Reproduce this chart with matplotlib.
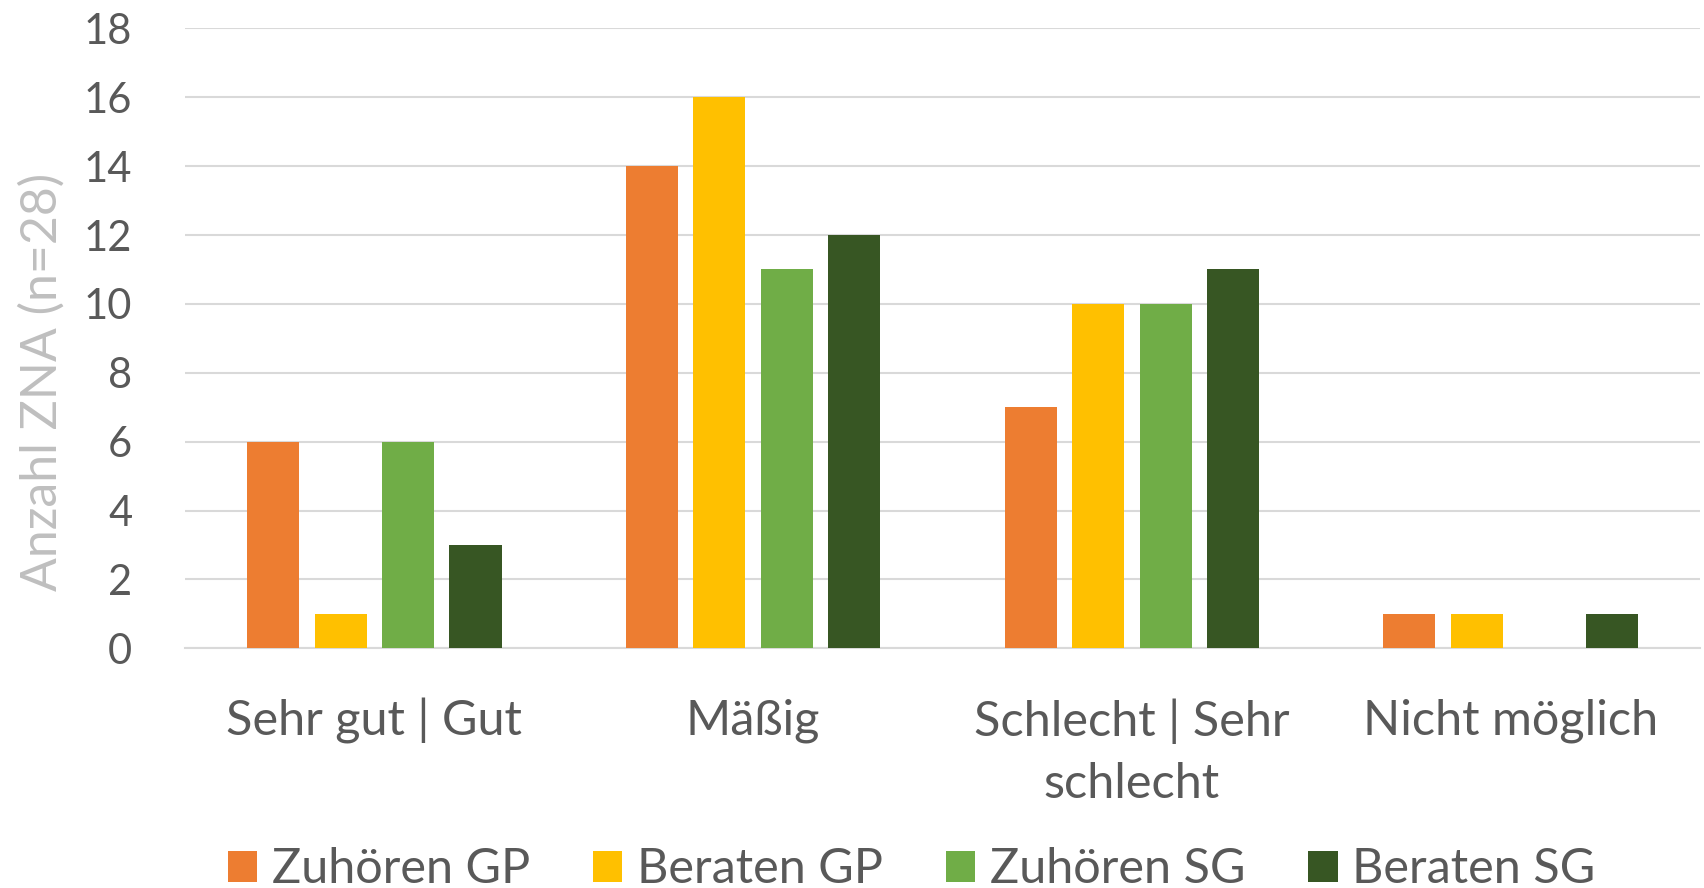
import matplotlib
matplotlib.use('Agg')
import matplotlib.pyplot as plt
import numpy as np

categories = ['Sehr gut | Gut', 'Mäßig', 'Schlecht | Sehr\nschlecht', 'Nicht möglich']
series_names = ['Zuhören GP', 'Beraten GP', 'Zuhören SG', 'Beraten SG']
zuhoeren_gp = [6, 14, 7, 1]
beraten_gp = [1, 16, 10, 1]
zuhoeren_sg = [6, 11, 10, 0]
beraten_sg = [3, 12, 11, 1]
colors = ['#ED7D31', '#FFC000', '#70AD47', '#375623']

plt.rcParams['font.family'] = ['Lato', 'DejaVu Sans']
text_col = '#595959'

fig = plt.figure(figsize=(17.04, 8.88), dpi=100)
ax = fig.add_axes([0.1086, 0.270, 0.889, 0.698])

x = np.arange(len(categories))
step = 0.178
width = 0.1375
values = [zuhoeren_gp, beraten_gp, zuhoeren_sg, beraten_sg]
for i, (name, vals) in enumerate(zip(series_names, values)):
    ax.bar(x + (i - 1.5) * step, vals, width, color=colors[i], label=name, zorder=3)

ax.set_xlim(-0.5, 3.5)
ax.set_ylim(0, 18)
ax.set_yticks(range(0, 19, 2))
ax.yaxis.grid(True, color='#D9D9D9', linewidth=1.5, zorder=0)
for s in ['top', 'right', 'left']:
    ax.spines[s].set_visible(False)
ax.spines['bottom'].set_color('#D9D9D9')
ax.spines['bottom'].set_linewidth(1.5)
ax.tick_params(length=0, colors=text_col)
ax.tick_params(axis='y', pad=38, labelsize=30)
ax.tick_params(axis='x', pad=36, labelsize=35)
ax.set_xticks(x)
ax.set_xticklabels(categories, linespacing=1.5)
ax.set_ylabel('Anzahl ZNA (n=28)', fontsize=36, color='#BFBFBF')
ax.yaxis.set_label_coords(-0.079, 0.43)

fig.legend(loc='center', bbox_to_anchor=(0.535, 0.021), ncol=4, frameon=False,
           fontsize=35, labelcolor=text_col, handlelength=0.6, handleheight=0.6,
           handletextpad=0.3, columnspacing=1.3)

fig.savefig('out.png', dpi=100)
